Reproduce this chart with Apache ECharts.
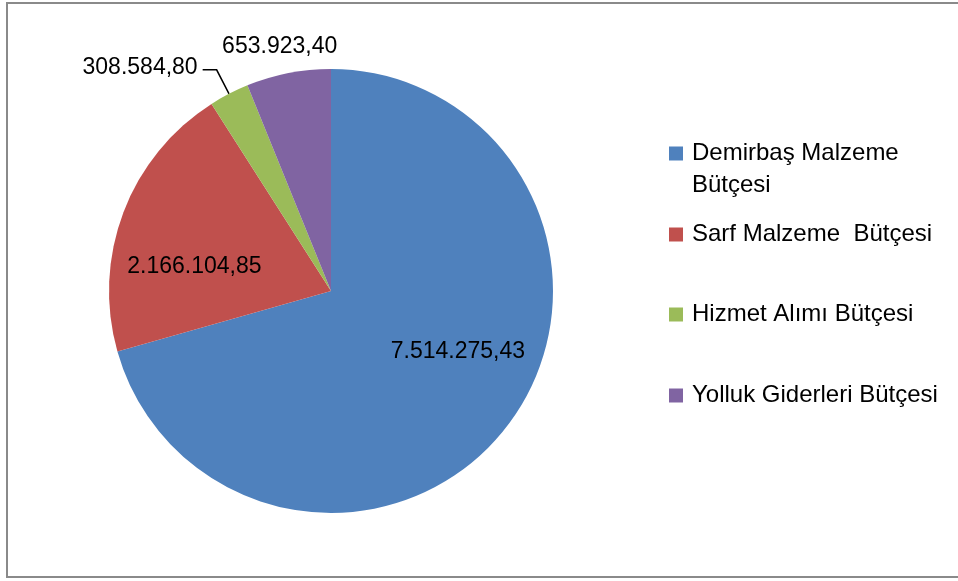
<!DOCTYPE html>
<html>
<head>
<meta charset="utf-8">
<script src="https://cdn.jsdelivr.net/npm/echarts@6/dist/echarts.min.js"></script>
<style>
  html, body { margin: 0; padding: 0; background: #fff; }
  #chart { width: 958px; height: 581px; }
</style>
</head>
<body>
<div id="chart"></div>
<script>
var names = ['Demirbaş Malzeme Bütçesi', 'Sarf Malzeme  Bütçesi', 'Hizmet Alımı Bütçesi', 'Yolluk Giderleri Bütçesi'];
var values = [7514275.43, 2166104.85, 308584.80, 653923.40];
var valueLabels = ['7.514.275,43', '2.166.104,85', '308.584,80', '653.923,40'];
var colors = ['#4F81BD', '#C0504D', '#9BBB59', '#8064A2'];

var font = 'Liberation Sans';
var chart = echarts.init(document.getElementById('chart'));

// label nudges so they sit where the original put them
var labelShift = [[36, -8], [-30, 16], [0, -2], [73, 0]];

var pieData = [];
for (var i = 0; i < names.length; i++) {
    var item = {
        name: names[i],
        value: values[i],
        itemStyle: { color: colors[i] },
        label: { position: i < 2 ? 'inside' : 'outside' }
    };
    if (i == 3) {
        item.labelLine = { show: false };
    }
    pieData.push(item);
}

var legendTops = [105.5, 218.5, 298.5, 379.5];
var legends = [];
for (var j = 0; j < names.length; j++) {
    legends.push({
        data: [names[j]],
        left: 669,
        top: legendTops[j],
        orient: 'vertical',
        padding: 0,
        itemWidth: 14,
        itemHeight: 14,
        icon: 'rect',
        selectedMode: false,
        formatter: function (name) {
            // empty first line keeps the marker level with "Demirbaş Malzeme"
            return name == names[0] ? '\nDemirbaş Malzeme\nBütçesi' : name;
        },
        textStyle: {
            fontFamily: font,
            fontSize: 24,
            color: '#000',
            lineHeight: 32,
            padding: [0, 0, 0, 4]
        }
    });
}

var option = {
    animation: false,
    legend: legends,
    graphic: [{
        type: 'rect',
        shape: { x: 7, y: 3, width: 980, height: 574 },
        style: { fill: 'none', stroke: '#8a8a8a', lineWidth: 2 }
    }],
    series: [{
        type: 'pie',
        center: [331, 291],
        radius: 222,
        startAngle: 90,
        clockwise: true,
        avoidLabelOverlap: false,
        itemStyle: { borderWidth: 0 },
        label: {
            color: '#000',
            fontFamily: font,
            fontSize: 23,
            formatter: function (p) {
                return valueLabels[p.dataIndex];
            }
        },
        labelLine: {
            length: 27,
            length2: 14,
            lineStyle: { color: '#000', width: 1.5 }
        },
        labelLayout: function (p) {
            return { dx: labelShift[p.dataIndex][0], dy: labelShift[p.dataIndex][1] };
        },
        data: pieData
    }]
};
chart.setOption(option);
</script>
</body>
</html>
